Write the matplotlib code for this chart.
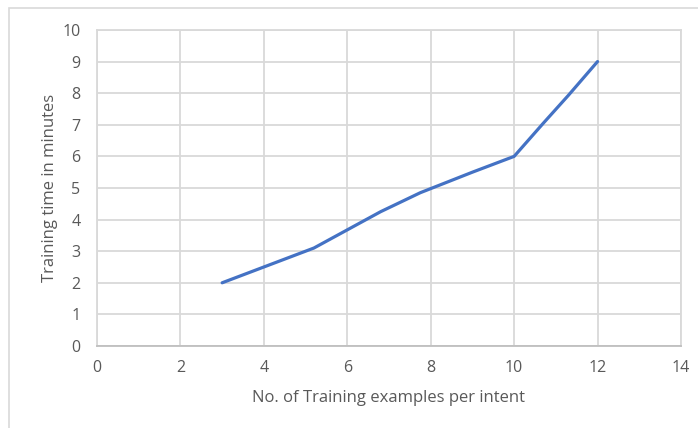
import matplotlib.pyplot as plt
from matplotlib.patches import Rectangle

# training examples per intent vs. training time (minutes)
examples = [3, 4, 5.2, 6.8, 7.75, 9, 10, 10.7, 11.3, 12]
minutes = [2, 2.5, 3.1, 4.25, 4.85, 5.5, 6, 7.05, 7.93, 9]

x_ticks = [0, 2, 4, 6, 8, 10, 12, 14]
y_ticks = [0, 1, 2, 3, 4, 5, 6, 7, 8, 9, 10]

plt.rcParams['font.family'] = ['Open Sans', 'DejaVu Sans']

fig = plt.figure(figsize=(6.98, 4.28), dpi=100)
ax = fig.add_axes([0.139, 0.1916, 0.8366, 0.7384])

# outer chart frame (only top/left edges fall inside the image)
fig.patches.append(Rectangle((9 / 698, -0.1), 1.2, 1.1 - 8 / 428, transform=fig.transFigure,
                             fill=False, edgecolor='#d9d9d9', linewidth=1.2))

ax.plot(examples, minutes, color='#4472C4', linewidth=2.3, solid_capstyle='round')

ax.set_xlim(0, 14)
ax.set_ylim(0, 10)
ax.set_xticks(x_ticks)
ax.set_yticks(y_ticks)
ax.grid(True, color='#d9d9d9', linewidth=1.3)
ax.set_axisbelow(True)
for side in ax.spines.values():
    side.set_color('#d9d9d9')
    side.set_linewidth(1.3)
ax.spines['bottom'].set_color('#bfbfbf')
ax.tick_params(axis='x', length=0, colors='#595959', labelsize=11.5, pad=10)
ax.tick_params(axis='y', length=0, colors='#595959', labelsize=11.5, pad=12)

ax.set_xlabel('No. of Training examples per intent', fontsize=12, color='#595959', labelpad=10)
ax.set_ylabel('Training time in minutes', fontsize=12, color='#595959', labelpad=3)

fig.savefig('out.png', dpi=100)
